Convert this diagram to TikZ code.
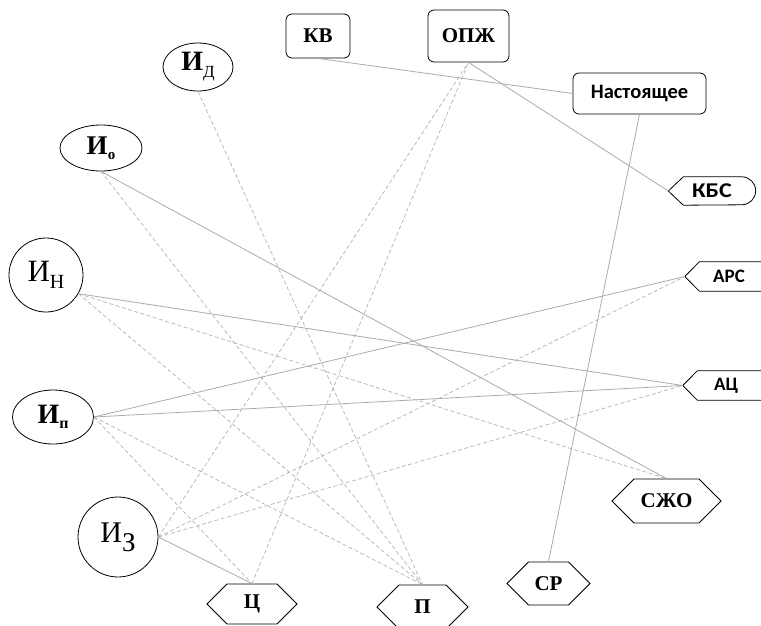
\documentclass[tikz,border=0pt]{standalone}
\usepackage{fontspec}
\setmainfont{Liberation Serif}
\newfontfamily\calfont{Carlito}
\usetikzlibrary{shapes.geometric,shapes.symbols}
\begin{document}
\begin{tikzpicture}[x=1pt,y=1pt,
 solidline/.style={draw=black!33, line width=0.8pt},
 dashline/.style={draw=black!30, line width=0.7pt, dash pattern=on 4pt off 2.5pt},
 ell/.style={draw, ellipse, inner sep=0pt, line width=0.8pt},
 rbox/.style={draw, rounded corners=6pt, inner sep=0pt, line width=0.8pt, font=\fontsize{21}{21}\selectfont\bfseries},
 hexa/.style={draw, signal, signal to=west and east, signal pointer angle=90, inner sep=0pt, line width=0.8pt, font=\fontsize{21}{21}\selectfont\bfseries},
 plainbox/.style={inner sep=0pt, font=\calfont\fontsize{19}{19}\selectfont\bfseries},
 outline/.style={draw, line width=0.8pt},
]
\useasboundingbox (0,0) rectangle (761,-625);
\clip (0,0) rectangle (761,-625);

% left nodes
\node[ell, minimum width=70, minimum height=48] (id) at (198,-67)
  {\fontsize{28}{28}\selectfont\bfseries И\raisebox{-7pt}{\fontsize{17}{17}\selectfont\mdseries Д}};
\node[ell, minimum width=82, minimum height=46] (io) at (101,-148)
  {\fontsize{27}{27}\selectfont\bfseries И\raisebox{-5pt}{\fontsize{15}{15}\selectfont о}};
\node[ell, minimum width=74, minimum height=74] (in) at (46,-275)
  {\fontsize{31}{31}\selectfont И\raisebox{-7pt}{\fontsize{20}{20}\selectfont Н}};
\node[ell, minimum width=81, minimum height=54] (ip) at (53,-417)
  {\fontsize{28}{28}\selectfont\bfseries И\raisebox{-5pt}{\fontsize{16}{16}\selectfont п}};
\node[ell, minimum width=80, minimum height=80] (iz) at (118,-537)
  {\fontsize{30}{30}\selectfont И\raisebox{-9pt}{\fontsize{27}{27}\selectfont З}};

% top boxes
\node[rbox, minimum width=64, minimum height=44] (kv) at (318,-36) {КВ};
\node[rbox, minimum width=81, minimum height=52] (opzh) at (468.5,-36) {ОПЖ};
\node[rbox, minimum width=133, minimum height=41, font=\calfont\fontsize{20.5}{20.5}\selectfont\bfseries] (nast) at (639.5,-93.5) {Настоящее};

% right tags
\node[plainbox, minimum width=87, minimum height=28, font=\calfont\fontsize{21}{21}\selectfont\bfseries] (kbs) at (712,-191) {\scalebox{1.15}[1]{КБС}};
\draw[outline] (kbs.west) -- ([xshift=15pt]kbs.north west) -- ([xshift=-14pt]kbs.north east)
  arc (90:-90:14pt) -- ([xshift=15pt]kbs.south west) -- cycle;
\node[plainbox, minimum width=88, minimum height=29] (ars) at (729,-276.5) {АРС};
\draw[outline] ([xshift=30pt]ars.north east) -- ([xshift=14.5pt]ars.north west) -- (ars.west)
  -- ([xshift=14.5pt]ars.south west) -- ([xshift=30pt]ars.south east);
\node[plainbox, minimum width=86, minimum height=29] (ats) at (726,-385.5) {АЦ};
\draw[outline] ([xshift=30pt]ats.north east) -- ([xshift=14.5pt]ats.north west) -- (ats.west)
  -- ([xshift=14.5pt]ats.south west) -- ([xshift=30pt]ats.south east);

% hexagons
\node[hexa, minimum width=109, minimum height=44] (szho) at (666.5,-501) {СЖО};
\node[hexa, minimum width=83, minimum height=43] (sr) at (548.5,-583.5) {СР};
\node[hexa, minimum width=91, minimum height=44] (p) at (422.5,-607) {П};
\node[hexa, minimum width=90, minimum height=40] (ts) at (252,-604) {Ц};

% solid connectors
\draw[solidline] (kv.south) -- (nast.west);
\draw[solidline] (opzh.south) -- (kbs.west);
\draw[solidline] (nast.south) -- (sr.north);
\draw[solidline] (io.south) -- (szho.north);
\draw[solidline] (in.-30) -- (ats.west);
\draw[solidline] (ip.east) -- (ars.west);
\draw[solidline] (ip.east) -- (ats.west);
\draw[solidline] (iz.east) -- (ts.north);

% dashed connectors
\draw[dashline] (id.south) -- (p.north);
\draw[dashline] (io.south) -- (p.north);
\draw[dashline] (in.-30) -- (p.north);
\draw[dashline] (in.-30) -- (szho.north);
\draw[dashline] (ip.east) -- (ts.north);
\draw[dashline] (ip.east) -- (p.north);
\draw[dashline] (iz.east) -- (opzh.south);
\draw[dashline] (iz.east) -- (ars.west);
\draw[dashline] (iz.east) -- (ats.west);
\draw[dashline] (ts.north) -- (opzh.south);
\end{tikzpicture}
\end{document}
